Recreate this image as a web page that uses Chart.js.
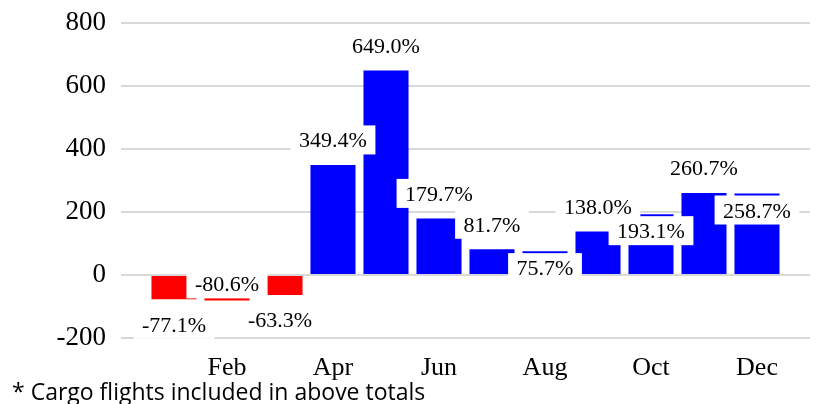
<!DOCTYPE html>
<html>
<head>
<meta charset="utf-8">
<script src="https://cdn.jsdelivr.net/npm/chart.js@4/dist/chart.umd.min.js"></script>
<style>
  html, body { margin: 0; padding: 0; background: #fff; }
  #wrap { position: relative; width: 816px; height: 404px; }
  #note {
    position: absolute; left: 12px; top: 380px;
    font-family: "Open Sans", sans-serif; font-size: 23px; line-height: 23px;
    color: #000; white-space: nowrap;
  }
</style>
</head>
<body>
<div id="wrap">
  <canvas id="c" width="816" height="404"></canvas>
  <div id="note">* Cargo flights included in above totals</div>
</div>
<script>
const months = ["Jan", "Feb", "Mar", "Apr", "May", "Jun", "Jul", "Aug", "Sep", "Oct", "Nov", "Dec"];
const changePct = [-77.1, -80.6, -63.3, 349.4, 649.0, 179.7, 81.7, 75.7, 138.0, 193.1, 260.7, 258.7];
const yTicks = [-200, 0, 200, 400, 600, 800];

// where each value label sits: outside the bar end or just inside it
const labelSide = ["out", "in", "out", "out", "out", "out", "out", "in", "out", "in", "out", "in"];

const serif = '"Liberation Serif", "Times New Roman", serif';

const valueLabels = {
  id: 'valueLabels',
  afterDatasetsDraw(chart) {
    const ctx = chart.ctx;
    const meta = chart.getDatasetMeta(0);
    ctx.save();
    ctx.font = '22px ' + serif;
    ctx.textAlign = 'center';
    ctx.textBaseline = 'alphabetic';
    meta.data.forEach((bar, i) => {
      const v = changePct[i];
      const txt = v.toFixed(1) + '%';
      const dir = v >= 0 ? -1 : 1;
      let cy;
      if (labelSide[i] === 'out') cy = bar.y + dir * 25;
      else cy = bar.y - dir * 16.5;
      const w = ctx.measureText(txt).width;
      ctx.fillStyle = '#fff';
      ctx.fillRect(bar.x - w / 2 - 8.5, cy - 14.5, w + 17, 29);
      ctx.fillStyle = '#000';
      ctx.fillText(txt, bar.x, cy + 7.5);
    });
    ctx.restore();
  }
};

new Chart(document.getElementById('c'), {
  type: 'bar',
  data: {
    datasets: [{
      data: changePct.map((v, i) => ({ x: i + 1, y: v })),
      backgroundColor: changePct.map(v => v < 0 ? '#ff0000' : '#0000ff'),
      borderWidth: 0,
      categoryPercentage: 1,
      barPercentage: 0.85
    }]
  },
  options: {
    responsive: false,
    animation: false,
    layout: { padding: { top: 23, right: 6, left: 0, bottom: 0 } },
    plugins: { legend: { display: false }, tooltip: { enabled: false } },
    scales: {
      x: {
        type: 'linear',
        min: 0,
        max: 13,
        offset: false,
        grid: { display: false, drawTicks: false },
        border: { display: false },
        ticks: {
          stepSize: 1,
          autoSkip: false,
          maxRotation: 0,
          padding: 15,
          color: '#000',
          font: { family: serif, size: 26 },
          callback: v => (v > 0 && v < 13 && v % 2 === 0) ? months[v - 1] : ''
        },
        afterFit: s => { s.height = 66; s.paddingLeft = 0; s.paddingRight = 0; }
      },
      y: {
        min: yTicks[0],
        max: yTicks[yTicks.length - 1],
        afterBuildTicks: s => { s.ticks = yTicks.map(v => ({ value: v })); },
        grid: { color: '#d9d9d9', lineWidth: 2, drawTicks: false },
        border: { display: false },
        ticks: {
          padding: 15,
          color: '#000',
          font: { family: serif, size: 27 }
        },
        afterFit: s => { s.width = 121; s.paddingTop = 0; s.paddingBottom = 0; }
      }
    }
  },
  plugins: [valueLabels]
});
</script>
</body>
</html>
